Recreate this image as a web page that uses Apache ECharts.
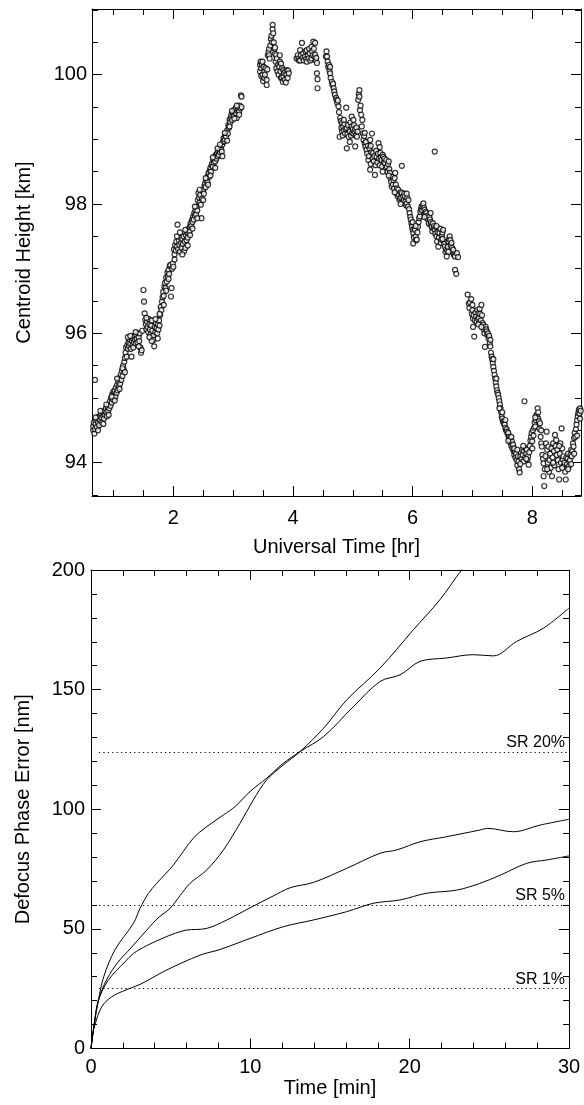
<!DOCTYPE html>
<html>
<head>
<meta charset="utf-8">
<script src="https://cdn.jsdelivr.net/npm/echarts@6/dist/echarts.min.js"></script>
<style>
html,body{margin:0;padding:0;background:#fff;}
#chart{width:584px;height:1105px;}
</style>
</head>
<body>
<div id="chart"></div>
<script>
// ---------- Top panel: centroid height vs universal time ----------
var heightRise1 = [[0.66,94.5],[0.66,94.56],[0.67,94.62],[0.68,94.45],[0.69,95.28],[0.69,94.52],[0.70,94.6],[0.71,94.66],[0.72,94.55],[0.73,94.7],[0.74,94.62],[0.75,94.68],[0.76,94.58],[0.77,94.72],[0.78,94.66],[0.79,94.75],[0.80,94.7],[0.81,94.62],[0.82,94.78],[0.83,94.72],[0.84,94.68],[0.85,94.8],[0.86,94.74],[0.87,94.84],[0.88,94.78],[0.89,94.72],[0.9,94.86],[0.91,94.8],[0.92,94.9],[0.93,94.84],[0.94,94.95],[0.95,94.88],[0.96,95.0],[0.97,94.93],[0.98,95.06],[0.99,94.98],[1.0,95.1],[1.01,95.04]];
var heightRise2 = [[1.02,95.12],[1.03,95.02],[1.04,95.16],[1.05,95.08],[1.06,95.2],[1.07,95.12],[1.08,95.26],[1.09,95.18],[1.1,95.3],[1.11,95.22],[1.12,95.36],[1.13,95.28],[1.14,95.42],[1.15,95.34],[1.16,95.5],[1.17,95.44],[1.18,95.56],[1.19,95.62],[1.2,95.7],[1.21,95.78],[1.22,95.64],[1.23,95.82],[1.24,95.76],[1.25,95.86],[1.26,95.8],[1.27,95.9],[1.28,95.84],[1.29,95.76],[1.3,95.64],[1.31,95.88],[1.32,95.82],[1.33,95.92],[1.34,95.86],[1.35,95.96],[1.36,95.9],[1.37,95.84],[1.38,95.98],[1.39,95.92],[1.4,95.86],[1.41,96.0],[1.42,95.94],[1.43,95.88],[1.44,96.0],[1.45,95.78],[1.46,95.7],[1.47,95.74],[1.48,96.04],[1.5,96.67],[1.51,96.49],[1.52,96.31]];
var heightRise3 = [[1.53,96.21],[1.54,96.14],[1.55,96.06],[1.56,96.18],[1.57,96.1],[1.58,96.02],[1.59,96.22],[1.6,96.14],[1.61,96.06],[1.62,95.98],[1.63,96.12],[1.64,96.2],[1.65,96.04],[1.66,95.96],[1.67,95.9],[1.68,95.8],[1.69,96.1],[1.7,96.02],[1.71,96.16],[1.72,96.08],[1.73,96.0],[1.74,96.14],[1.75,96.06],[1.76,96.2],[1.77,96.12],[1.78,96.28],[1.79,96.41],[1.8,96.36],[1.81,96.49],[1.82,96.56],[1.83,96.64],[1.84,96.58],[1.85,96.72],[1.86,96.78],[1.87,96.7],[1.88,96.86],[1.89,96.8],[1.9,96.94],[1.91,96.88],[1.92,96.98],[1.93,96.92],[1.94,97.04],[1.95,97.06],[1.96,96.57],[1.97,96.7],[1.98,97.0],[1.99,97.08],[2.0,97.03]];
var heightRise4 = [[2.01,97.3],[2.02,97.22],[2.03,97.36],[2.04,97.28],[2.05,97.42],[2.06,97.34],[2.07,97.68],[2.08,97.3],[2.09,97.44],[2.1,97.37],[2.11,97.26],[2.12,97.48],[2.13,97.4],[2.14,97.32],[2.15,97.46],[2.16,97.38],[2.17,97.5],[2.18,97.27],[2.19,97.42],[2.2,97.32],[2.21,97.52],[2.22,97.44],[2.23,97.56],[2.24,97.48],[2.25,97.55],[2.26,97.62],[2.27,97.58],[2.28,97.65],[2.29,97.7],[2.3,97.66],[2.31,97.75],[2.32,97.72],[2.33,97.8],[2.34,97.76],[2.35,97.86],[2.36,97.82],[2.37,97.9],[2.38,97.84],[2.39,97.96],[2.4,97.9],[2.41,98.06],[2.42,98.17],[2.43,98.1],[2.44,98.02],[2.45,98.14],[2.46,97.99],[2.47,97.78],[2.48,98.08],[2.49,98.2],[2.5,98.22]];
var heightRise5 = [[2.51,98.16],[2.52,98.28],[2.53,98.32],[2.54,98.26],[2.55,98.36],[2.56,98.4],[2.57,98.34],[2.58,98.44],[2.59,98.48],[2.6,98.42],[2.61,98.52],[2.62,98.56],[2.63,98.5],[2.64,98.6],[2.65,98.63],[2.66,98.58],[2.67,98.68],[2.68,98.64],[2.69,98.72],[2.7,98.66],[2.71,98.76],[2.72,98.7],[2.73,98.78],[2.74,98.74],[2.75,98.82],[2.76,98.76],[2.77,98.86],[2.78,98.8],[2.79,98.88],[2.8,98.84],[2.81,98.81],[2.82,98.92],[2.83,98.96],[2.84,99.02],[2.85,98.97],[2.86,99.0],[2.87,99.06],[2.88,99.04],[2.89,99.1],[2.9,99.14],[2.91,99.09],[2.92,99.22],[2.93,99.18],[2.94,99.3],[2.95,99.26],[2.96,99.34],[2.97,99.38],[2.98,99.3],[2.99,99.42],[3.0,99.4],[3.01,99.36],[3.02,99.45],[3.03,99.42],[3.04,99.48],[3.05,99.4],[3.06,99.33],[3.07,99.44],[3.08,99.5],[3.09,99.46],[3.1,99.43],[3.11,99.52],[3.12,99.48],[3.13,99.68],[3.14,99.5],[3.14,99.66]];
var heightRiseExtra = [[0.7,94.7],[0.74,94.5],[0.78,94.8],[0.83,94.6],[0.88,94.9],[0.92,94.74],[0.97,95.02],[1.02,94.96],[1.06,95.3],[1.1,95.14],[1.15,95.46],[1.19,95.4],[1.24,95.94],[1.28,95.96],[1.33,95.78],[1.37,96.02],[1.42,95.8],[1.55,96.24],[1.6,95.94],[1.64,95.88],[1.7,96.22],[1.74,95.92],[1.77,96.3],[1.84,96.44],[1.88,96.66],[1.92,96.84],[2.02,97.14],[2.06,97.5],[2.11,97.56],[2.15,97.22],[2.2,97.6],[2.24,97.36],[2.28,97.52],[2.32,97.62],[2.36,97.96],[2.4,97.78],[2.44,98.22],[2.5,98.06],[2.54,98.4],[2.58,98.3],[2.62,98.44],[2.66,98.72],[2.7,98.56],[2.74,98.86],[2.78,98.92],[2.82,98.74],[2.86,99.1],[2.9,98.98],[2.94,99.2],[2.98,99.44],[3.02,99.32],[3.06,99.52],[3.1,99.38]];
var heightPeak1 = [[3.45,100.15],[3.45,100.05],[3.46,100.2],[3.47,100.1],[3.47,99.98],[3.48,100.16],[3.49,100.2],[3.49,100.0],[3.5,99.9],[3.51,100.12],[3.52,100.05],[3.52,99.95],[3.53,100.0],[3.54,100.1],[3.56,99.84],[3.56,99.92],[3.57,100.08],[3.58,100.3],[3.59,100.35],[3.6,100.4],[3.6,100.3],[3.61,100.25],[3.62,100.45],[3.63,100.55],[3.64,100.6],[3.65,100.5],[3.66,100.77],[3.66,100.7],[3.67,100.64],[3.68,100.5],[3.69,100.4],[3.7,100.32],[3.7,100.42],[3.71,100.2],[3.72,100.3],[3.72,100.1],[3.73,100.25],[3.74,100.05],[3.75,100.15],[3.76,100.0],[3.77,100.12],[3.78,100.3],[3.78,100.2],[3.79,100.05],[3.8,100.17],[3.8,99.95],[3.81,99.96],[3.82,100.1],[3.83,99.89],[3.84,100.07],[3.84,99.97],[3.85,100.02],[3.86,99.92],[3.87,100.05],[3.88,99.88],[3.89,100.0],[3.9,100.07],[3.91,99.95],[3.92,100.06],[3.93,100.02]];
var heightPeak2 = [[4.06,100.25],[4.08,100.3],[4.09,100.25],[4.1,100.22],[4.12,100.38],[4.12,100.22],[4.13,100.3],[4.15,100.49],[4.16,100.26],[4.17,100.33],[4.18,100.22],[4.2,100.28],[4.21,100.36],[4.22,100.24],[4.23,100.38],[4.23,100.2],[4.25,100.3],[4.26,100.25],[4.27,100.4],[4.28,100.33],[4.29,100.22],[4.31,100.43],[4.31,100.25],[4.32,100.36],[4.33,100.3],[4.34,100.51],[4.35,100.4],[4.36,100.28],[4.37,100.49],[4.37,100.31],[4.38,100.22],[4.39,100.26],[4.4,100.18],[4.4,100.02],[4.41,99.93],[4.41,99.79]];
var heightFall1 = [[4.55,100.28],[4.56,100.36],[4.57,100.28],[4.58,100.2],[4.59,100.12],[4.6,100.15],[4.61,100.06],[4.62,100.02],[4.63,99.95],[4.65,99.89],[4.66,99.84],[4.67,99.86],[4.68,99.79],[4.69,99.74],[4.7,99.69],[4.72,99.64],[4.73,99.61],[4.74,99.56],[4.76,99.51],[4.77,99.42],[4.78,99.04],[4.79,99.33],[4.8,99.28],[4.81,99.18],[4.82,99.25],[4.82,99.12],[4.83,99.06],[4.84,99.2],[4.85,99.14],[4.86,99.24],[4.87,99.09],[4.88,99.16],[4.89,99.49],[4.9,99.17],[4.9,98.86],[4.91,99.08],[4.92,99.22],[4.93,99.04],[4.94,99.14],[4.95,99.12],[4.96,99.26],[4.97,99.06],[4.98,99.2],[4.98,99.35],[4.99,99.1],[5.0,99.16],[5.01,99.09],[5.01,99.3],[5.02,99.22],[5.03,99.12],[5.04,99.15],[5.04,98.89],[5.05,99.06],[5.06,99.18],[5.07,99.04],[5.08,99.12]];
var heightFall2 = [[5.09,99.61],[5.1,99.7],[5.11,99.76],[5.11,99.66],[5.12,99.45],[5.13,99.52],[5.14,99.38],[5.15,99.2],[5.16,99.3],[5.17,99.09],[5.18,98.99],[5.19,99.05],[5.2,98.94],[5.21,98.89],[5.22,98.96],[5.23,98.84],[5.24,98.78],[5.25,98.9],[5.26,98.68],[5.27,98.74],[5.28,98.86],[5.29,98.53],[5.29,98.99],[5.3,98.62],[5.31,98.8],[5.32,99.09],[5.33,98.7],[5.34,98.79],[5.35,98.66],[5.36,98.74],[5.37,98.45],[5.38,98.6],[5.39,98.82],[5.4,98.73],[5.41,98.64],[5.42,98.78],[5.43,98.94],[5.44,98.7],[5.45,98.6],[5.46,98.79],[5.47,98.72],[5.48,98.68],[5.49,98.58],[5.5,98.76],[5.51,98.73],[5.52,98.64],[5.53,98.7],[5.54,98.63],[5.55,98.55],[5.56,98.68],[5.57,98.58],[5.58,98.5],[5.59,98.62],[5.6,98.66],[5.61,98.54],[5.62,98.48],[5.63,98.4],[5.64,98.34],[5.65,98.27],[5.66,98.42],[5.67,98.3],[5.68,98.37],[5.69,98.24],[5.7,98.4],[5.71,98.48],[5.72,98.3]];
var heightFall3 = [[5.73,98.17],[5.74,98.24],[5.75,98.12],[5.76,98.22],[5.77,98.14],[5.78,98.06],[5.79,98.09],[5.8,98.18],[5.81,98.1],[5.82,98.59],[5.82,98.17],[5.83,98.02],[5.84,98.12],[5.85,98.06],[5.86,98.16],[5.87,98.12],[5.88,98.04],[5.89,97.98],[5.9,98.01],[5.91,98.1],[5.92,97.96],[5.93,98.06],[5.94,97.92],[5.95,97.86],[5.96,97.8],[5.97,97.76],[5.98,97.7],[5.99,97.65],[6.0,97.6],[6.01,97.55],[6.01,97.39],[6.02,97.48],[6.03,97.62],[6.04,97.6],[6.05,97.5],[6.06,97.44],[6.07,97.45],[6.08,97.56],[6.09,97.65],[6.1,97.72],[6.11,97.78],[6.12,97.81],[6.13,97.88],[6.14,97.92],[6.15,97.96],[6.16,97.9],[6.17,97.98],[6.18,98.01],[6.19,97.94],[6.2,97.91],[6.21,97.84],[6.22,97.88],[6.23,97.86],[6.24,97.78],[6.25,97.82],[6.26,97.76],[6.27,97.7],[6.28,97.8],[6.29,97.76],[6.3,97.68],[6.31,97.72],[6.32,97.65],[6.33,97.58],[6.34,97.7],[6.35,97.62],[6.36,97.66],[6.37,98.81],[6.37,97.6],[6.38,97.54],[6.39,97.64],[6.4,97.5],[6.41,97.42],[6.42,97.56],[6.43,97.34],[6.44,97.48],[6.45,97.55],[6.46,97.62],[6.47,97.4],[6.48,97.45],[6.49,97.52],[6.5,97.56],[6.51,97.6],[6.52,97.42],[6.53,97.38],[6.54,97.34],[6.55,97.26],[6.56,97.3],[6.57,97.19],[6.58,97.28],[6.59,97.34],[6.6,97.42],[6.61,97.46],[6.62,97.5],[6.63,97.44],[6.64,97.36],[6.65,97.4],[6.66,97.32],[6.67,97.25],[6.68,97.29],[6.69,97.22],[6.7,97.2],[6.71,97.19],[6.71,96.98],[6.73,96.92],[6.74,97.24],[6.76,97.18]];
var heightFall4 = [[6.92,96.6],[6.94,96.46],[6.95,96.39],[6.96,96.48],[6.98,96.53],[6.99,96.3],[7.0,96.36],[7.01,96.23],[7.01,96.1],[7.02,96.28],[7.03,95.95],[7.04,96.2],[7.05,96.32],[7.06,96.26],[7.07,96.18],[7.08,96.36],[7.09,96.22],[7.1,96.31],[7.11,96.24],[7.12,96.38],[7.13,96.3],[7.14,96.2],[7.15,96.44],[7.16,96.28],[7.17,96.16],[7.18,96.13],[7.19,96.06],[7.2,96.0],[7.21,95.79],[7.22,96.1],[7.23,96.06],[7.24,96.03],[7.25,95.98],[7.26,96.0],[7.27,95.92],[7.28,95.96],[7.29,95.85],[7.3,95.8],[7.31,95.7],[7.32,95.64],[7.33,95.6],[7.34,95.54],[7.35,95.48],[7.36,95.42],[7.37,95.36],[7.38,95.3],[7.39,95.24],[7.4,95.18],[7.41,95.12],[7.42,95.08],[7.43,95.05],[7.44,95.0],[7.45,94.95],[7.46,94.9],[7.47,94.84],[7.48,94.78],[7.49,94.71],[7.5,94.68],[7.51,94.64],[7.52,94.62],[7.53,94.6],[7.54,94.59],[7.55,94.54],[7.56,94.5],[7.57,94.52],[7.58,94.48],[7.59,94.44],[7.6,94.46],[7.61,94.4],[7.62,94.36],[7.63,94.38],[7.64,94.3],[7.65,94.26],[7.66,94.33],[7.67,94.22],[7.68,94.28],[7.69,94.18],[7.7,94.12],[7.71,94.17],[7.72,94.08],[7.73,94.14],[7.74,94.04],[7.75,93.96],[7.76,94.1],[7.77,94.02],[7.78,93.9],[7.79,93.85],[7.8,94.1]];
var heightTrough = [[7.81,94.16],[7.82,94.06],[7.83,94.2],[7.84,94.12],[7.85,94.02],[7.86,94.18],[7.87,94.95],[7.88,94.08],[7.89,94.22],[7.9,94.14],[7.91,94.2],[7.92,94.05],[7.93,94.1],[7.94,93.97],[7.95,94.16],[7.96,94.26],[7.97,94.34],[7.98,94.4],[7.99,94.46],[8.0,94.33],[8.01,94.5],[8.02,94.42],[8.03,94.54],[8.04,94.62],[8.05,94.56],[8.06,94.66],[8.07,94.74],[8.08,94.71],[8.09,94.84],[8.1,94.68],[8.11,94.64],[8.12,94.52],[8.13,94.61],[8.14,94.4],[8.15,94.3],[8.16,94.25],[8.17,94.12],[8.18,94.06],[8.19,93.99],[8.19,93.79],[8.2,93.64],[8.21,93.9],[8.22,94.1],[8.23,94.3],[8.24,94.48],[8.25,94.2],[8.26,94.0],[8.27,94.25],[8.28,93.86],[8.29,94.04],[8.3,94.14],[8.31,93.92],[8.32,94.22],[8.33,93.79],[8.34,94.08],[8.35,94.3],[8.36,94.18],[8.37,93.96],[8.38,94.43],[8.39,94.26],[8.4,94.35],[8.41,94.12],[8.42,94.2],[8.43,94.04],[8.44,93.9],[8.45,93.74],[8.46,94.14],[8.47,94.3],[8.48,94.0],[8.49,94.53],[8.5,94.22],[8.51,94.05],[8.52,94.1],[8.53,93.96],[8.54,94.0],[8.55,93.86],[8.56,93.74],[8.57,94.08],[8.58,93.98],[8.59,94.06],[8.6,94.14],[8.61,93.94],[8.62,94.02],[8.63,94.04],[8.64,94.12],[8.65,94.2],[8.66,94.1],[8.67,94.18],[8.68,94.3],[8.69,94.25],[8.7,94.38],[8.71,94.46],[8.72,94.4],[8.73,94.52],[8.74,94.59],[8.75,94.66],[8.76,94.72],[8.77,94.77],[8.78,94.82],[8.79,94.76],[8.8,94.84],[8.81,94.8]];
var heightFallExtra = [[4.62,100.12],[4.75,99.6],[4.85,99.3],[4.95,98.96],[5.2,99.1],[5.3,98.9],[5.45,98.88],[5.5,98.5],[5.6,98.44],[5.7,98.18],[5.8,98.0],[5.9,98.16],[6.0,97.72],[6.05,97.66],[6.2,97.8],[6.3,97.86],[6.4,97.66],[6.5,97.46],[6.6,97.26],[7.0,96.44],[7.1,96.14],[7.15,96.1],[7.3,95.9],[7.35,95.6],[7.4,95.3],[7.45,94.84],[7.5,94.78],[7.55,94.66],[7.6,94.34],[7.65,94.4],[7.7,94.22],[7.75,94.2],[7.8,93.98],[7.85,94.26],[7.9,94.06],[8.0,94.22],[8.05,94.7],[8.1,94.78],[8.15,94.5],[8.25,93.9],[8.35,94.0],[8.45,94.26],[8.5,93.92],[8.6,93.9],[8.65,93.98],[8.7,94.14],[8.75,94.42],[8.8,94.68]];

var topXMajor = [2, 4, 6, 8];
var topXMinor = [1, 1.5, 2.5, 3, 3.5, 4.5, 5, 5.5, 6.5, 7, 7.5, 8.5];
var topYMajor = [94, 96, 98, 100];
var topYMinor = [93.5, 94.5, 95, 95.5, 96.5, 97, 97.5, 98.5, 99, 99.5, 100.5, 101];

// ---------- Bottom panel: defocus phase error vs time ----------
var curveA = [[0,0],[0.2,10],[0.46,20],[1.0,29],[1.71,36.2],[2.5,42],[3.5,49.5],[4.2,54.5],[4.96,58.6],[5.6,64],[6.21,69],[7.26,74.6],[8.31,83],[9.35,94.1],[10.19,103.9],[11.03,112.3],[12.07,118.5],[13.12,124.1],[14.6,133.9],[16.05,145.7],[18.14,159],[20.23,175],[21.9,187.6],[23.26,200],[25,214],[27,230],[30,250]];
var curveB = [[0,0],[0.2,10],[0.46,20],[0.8,30],[1.51,41.3],[2.66,52.3],[3.08,58.6],[3.6,64.8],[4.12,69.0],[5.17,76.7],[6.42,87.9],[7.26,92.7],[8.31,97.6],[9.04,101.1],[9.98,107.4],[11.03,113],[12.07,119.2],[13.12,124.1],[14.6,130.4],[16.47,142.9],[18.14,153.4],[19.4,156.2],[20.65,161.8],[22.3,163.2],[24.0,164.6],[25.25,164.1],[26.7,170.1],[28.4,175.7],[30,184.1]];
var curveC = [[0,0],[0.2,10],[0.46,20],[1.09,28.6],[2.13,36.2],[2.66,39.7],[3.5,43],[4.4,45.8],[5.3,48.2],[6.0,49.5],[7.26,50.2],[8.52,53.7],[9.98,58.8],[11.45,63.8],[12.5,67.2],[13.95,69.4],[16.05,75.3],[18.14,81.6],[19.19,83.0],[20.65,86.4],[22.3,88.5],[24.4,91.3],[24.9,92],[26.5,90.6],[28.2,93.4],[30,95.8]];
var curveD = [[0,0],[0.1,6],[0.25,10],[0.67,17.4],[1.3,21.6],[2.2,24.5],[3.08,26.8],[4.75,32.8],[6.84,39.0],[8.1,41.4],[9.98,46],[12.07,50.9],[13.95,53.7],[16.05,57.2],[17.72,60.7],[19.4,62.1],[21.07,64.9],[22.95,66.2],[24.4,69],[25.7,72.5],[27.35,77.4],[28.6,78.8],[30,80.5]];
var srLevels = [124, 60, 25];
var srLabels = ['SR 20%', 'SR 5%', 'SR 1%'];

var FONT = 'Liberation Sans, Arial, Helvetica, sans-serif';
var BLACK = '#000';

var heightData = [].concat(heightRise1, heightRise2, heightRise3, heightRise4, heightRise5, heightRiseExtra,
  heightPeak1, heightPeak2, heightFall1, heightFall2, heightFall3, heightFall4, heightTrough, heightFallExtra);

function customAxis(o) {
  var ax = {
    type: 'value', gridIndex: o.grid, position: o.position,
    min: o.min, max: o.max, scale: true,
    axisLine: { show: o.line, onZero: false, lineStyle: { color: BLACK, width: 1 } },
    axisTick: { show: true, inside: true, length: o.length, customValues: o.values, lineStyle: { color: BLACK, width: 1 } },
    axisLabel: { show: !!o.labels, customValues: o.values, color: BLACK, fontSize: 20, fontFamily: FONT, margin: o.margin || 8 },
    splitLine: { show: false }
  };
  if (o.name) {
    ax.name = o.name; ax.nameLocation = 'middle'; ax.nameGap = o.nameGap;
    ax.nameTextStyle = { color: BLACK, fontSize: 20, fontFamily: FONT };
  }
  return ax;
}

function nativeAxis(o) {
  var ax = {
    type: 'value', gridIndex: o.grid, position: o.position,
    min: o.min, max: o.max, interval: o.interval,
    axisLine: { show: true, onZero: false, lineStyle: { color: BLACK, width: 1 } },
    axisTick: { show: true, inside: true, length: 10, lineStyle: { color: BLACK, width: 1 } },
    minorTick: { show: true, splitNumber: 5, length: 6, lineStyle: { color: BLACK, width: 1 } },
    axisLabel: { show: !!o.labels, color: BLACK, fontSize: 20, fontFamily: FONT, margin: o.margin || 8 },
    splitLine: { show: false }, minorSplitLine: { show: false }
  };
  if (o.name) {
    ax.name = o.name; ax.nameLocation = 'middle'; ax.nameGap = o.nameGap;
    ax.nameTextStyle = { color: BLACK, fontSize: 20, fontFamily: FONT };
  }
  return ax;
}

var X0 = 0.64, X1 = 8.815, Y0 = 93.485, Y1 = 101.015;

var xAxes = [
  customAxis({grid:0, position:'bottom', min:X0, max:X1, values:topXMajor, length:10, labels:true, line:true, margin:12, name:'Universal Time [hr]', nameGap:41}),
  customAxis({grid:0, position:'bottom', min:X0, max:X1, values:topXMinor, length:6, line:false}),
  customAxis({grid:0, position:'top', min:X0, max:X1, values:topXMajor, length:10, line:true}),
  customAxis({grid:0, position:'top', min:X0, max:X1, values:topXMinor, length:6, line:false}),
  nativeAxis({grid:1, position:'bottom', min:0, max:30, interval:10, labels:true, margin:9, name:'Time [min]', nameGap:27}),
  nativeAxis({grid:1, position:'top', min:0, max:30, interval:10})
];
var yAxes = [
  customAxis({grid:0, position:'left', min:Y0, max:Y1, values:topYMajor, length:10, labels:true, line:true, margin:5, name:'Centroid Height [km]', nameGap:58}),
  customAxis({grid:0, position:'left', min:Y0, max:Y1, values:topYMinor, length:6, line:false}),
  customAxis({grid:0, position:'right', min:Y0, max:Y1, values:topYMajor, length:10, line:true}),
  customAxis({grid:0, position:'right', min:Y0, max:Y1, values:topYMinor, length:6, line:false}),
  nativeAxis({grid:1, position:'left', min:0, max:200, interval:50, labels:true, margin:6, name:'Defocus Phase Error [nm]', nameGap:58}),
  nativeAxis({grid:1, position:'right', min:0, max:200, interval:50})
];

function curveSeries(data, withMarks) {
  var s = {
    type: 'line', xAxisIndex: 4, yAxisIndex: 4, data: data,
    showSymbol: false, smooth: 0.35, clip: true,
    lineStyle: { color: BLACK, width: 1 }, silent: true
  };
  if (withMarks) {
    s.markLine = {
      silent: true, symbol: ['none', 'none'], animation: false,
      lineStyle: { color: BLACK, type: [1.2, 3.2], width: 1 },
      label: { show: true, position: 'insideEndTop', formatter: '{b}', color: BLACK, fontSize: 16, fontFamily: FONT, distance: [4, 1] },
      data: srLevels.map(function (v, i) {
        return [{ name: srLabels[i], coord: [0.5, v] }, { coord: [30, v] }];
      })
    };
  }
  return s;
}

var chart = echarts.init(document.getElementById('chart'), null, { renderer: 'canvas' });
chart.setOption({
  animation: false,
  backgroundColor: '#fff',
  textStyle: { fontFamily: FONT },
  grid: [
    { left: 92, right: 3, top: 9, height: 487, containLabel: false },
    { left: 91, right: 15, top: 570, height: 478.5, containLabel: false }
  ],
  xAxis: xAxes,
  yAxis: yAxes,
  series: [
    {
      type: 'scatter', xAxisIndex: 0, yAxisIndex: 0, data: heightData,
      symbol: 'circle', symbolSize: 5,
      itemStyle: { color: '#fff', borderColor: BLACK, borderWidth: 1.2 },
      silent: true
    },
    curveSeries(curveA, false),
    curveSeries(curveB, false),
    curveSeries(curveC, false),
    curveSeries(curveD, true)
  ]
});
</script>
</body>
</html>
